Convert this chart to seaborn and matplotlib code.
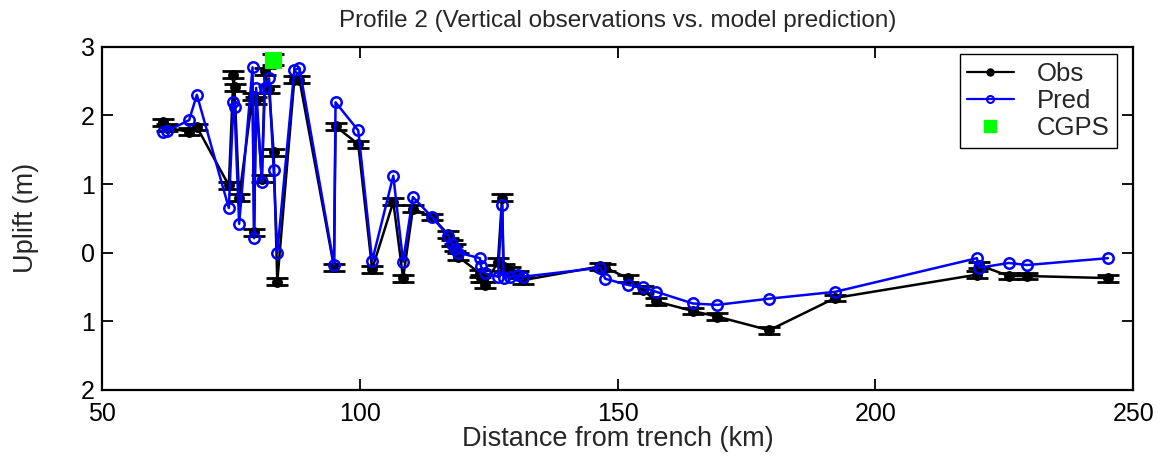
import numpy as np
import pandas as pd
import matplotlib
matplotlib.use("Agg")
import matplotlib.pyplot as plt
import seaborn as sns
from matplotlib.lines import Line2D

# ---- data ----
dist = [61.8, 62.6, 66.9, 68.4, 74.6, 75.5, 75.7, 76.6, 79.2, 79.5,
        79.9, 81.0, 81.6, 82.4, 83.3, 84.0, 87.3, 88.3, 95.0, 95.3,
        99.7, 102.4, 106.5, 108.4, 110.3, 114.0, 117.1, 117.9, 118.5, 119.1,
        123.3, 123.5, 124.3, 126.8, 127.6, 127.9, 129.1, 130.7, 131.7, 146.6,
        147.6, 152.0, 154.9, 157.5, 164.6, 169.3, 179.4, 192.2, 219.7, 220.1,
        225.9, 229.4, 245.1]
obs = [1.90, 1.82, 1.76, 1.83, 0.98, 2.59, 2.41, 0.80, 2.28, 0.30,
       2.22, 1.08, 2.64, 2.38, 1.46, -0.42, 2.52, 2.52, -0.21, 1.84,
       1.58, -0.24, 0.74, -0.37, 0.64, 0.52, 0.27, 0.14, 0.08, -0.06,
       -0.30, -0.37, -0.47, -0.13, 0.80, -0.21, -0.26, -0.32, -0.40, -0.20,
       -0.22, -0.37, -0.54, -0.71, -0.85, -0.93, -1.13, -0.66, -0.32, -0.18,
       -0.34, -0.34, -0.37]
pred = [1.76, 1.77, 1.93, 2.30, 0.65, 2.20, 2.12, 0.42, 2.70, 0.21,
        2.40, 1.03, 2.40, 2.54, 1.20, 0.00, 2.66, 2.69, -0.18, 2.19,
        1.78, -0.12, 1.12, -0.13, 0.81, 0.52, 0.25, 0.12, 0.05, 0.00,
        -0.08, -0.20, -0.30, -0.35, 0.69, -0.37, -0.35, -0.33, -0.35, -0.22,
        -0.38, -0.47, -0.50, -0.57, -0.74, -0.76, -0.67, -0.57, -0.08, -0.22,
        -0.15, -0.18, -0.08]
obs_err = 0.05
cgps_dist = [83.2]
cgps_uplift = [2.81]
cgps_err = [0.08]

yticks = [3, 2, 1, 0, -1, -2]
ytick_labels = ["3", "2", "1", "0", "1", "2"]
xticks = [50, 100, 150, 200, 250]

df = pd.DataFrame({"dist": dist, "obs": obs, "pred": pred})

sns.set_theme(style="ticks")
plt.rcParams["font.family"] = ["Liberation Sans", "DejaVu Sans"]

fig = plt.figure(figsize=(11.67, 4.65), dpi=100)
ax = fig.add_axes([0.0874, 0.1613, 0.8836, 0.7383])

# Observations with error bars
ax.errorbar(df["dist"], df["obs"], yerr=obs_err, fmt="none", ecolor="black",
            elinewidth=1.6, capsize=8, capthick=2.0, zorder=2)
sns.lineplot(data=df, x="dist", y="obs", sort=False, estimator=None, ax=ax,
             color="black", lw=1.8, marker="o", markersize=7,
             markerfacecolor="black", markeredgecolor="black", zorder=3)
# Predictions
sns.lineplot(data=df, x="dist", y="pred", sort=False, estimator=None, ax=ax,
             color="#0000ff", lw=1.8, marker="o", markersize=7.5,
             markerfacecolor="none", markeredgecolor="#0000ff",
             markeredgewidth=1.8, zorder=4)
# CGPS
ax.errorbar(cgps_dist, cgps_uplift, yerr=cgps_err, fmt="none", ecolor="black",
            elinewidth=1.6, capsize=8, capthick=2.0, zorder=5)
sns.scatterplot(x=cgps_dist, y=cgps_uplift, ax=ax, marker="s", s=120,
                color="#00ff00", edgecolor="#00ff00", zorder=6)

ax.set_xlim(50, 250)
ax.set_ylim(-2, 3)
ax.set_xticks(xticks)
ax.set_yticks(yticks)
ax.set_yticklabels(ytick_labels)
ax.tick_params(direction="in", length=8, width=1.3, labelsize=18,
               top=True, right=True, colors="black")
ax.tick_params(axis="x", pad=9)
ax.tick_params(axis="y", pad=5)
for s in ax.spines.values():
    s.set_linewidth(1.6)
    s.set_color("black")

ax.set_xlabel("Distance from trench (km)", fontsize=19.5, labelpad=0)
ax.set_ylabel("Uplift (m)", fontsize=19.5, labelpad=30)
ax.set_title("Profile 2 (Vertical observations vs. model prediction)",
             fontsize=17.5, pad=14)

handles = [
    Line2D([], [], color="black", lw=1.6, marker="o", markersize=5),
    Line2D([], [], color="#0000ff", lw=1.6, marker="o", markersize=5,
           markerfacecolor="none", markeredgewidth=1.5),
    Line2D([], [], color="#00ff00", lw=0, marker="s", markersize=8),
]
leg = ax.legend(handles, ["Obs", "Pred", "CGPS"], loc="upper right",
                bbox_to_anchor=(0.9845, 0.978), fontsize=18.5, frameon=True,
                fancybox=False, edgecolor="black", handlelength=1.8,
                borderpad=0.3, labelspacing=0.12, handletextpad=0.9,
                borderaxespad=0.0)
leg.get_frame().set_linewidth(1.0)
leg.get_frame().set_alpha(1)

fig.savefig("out.png", dpi=100)
